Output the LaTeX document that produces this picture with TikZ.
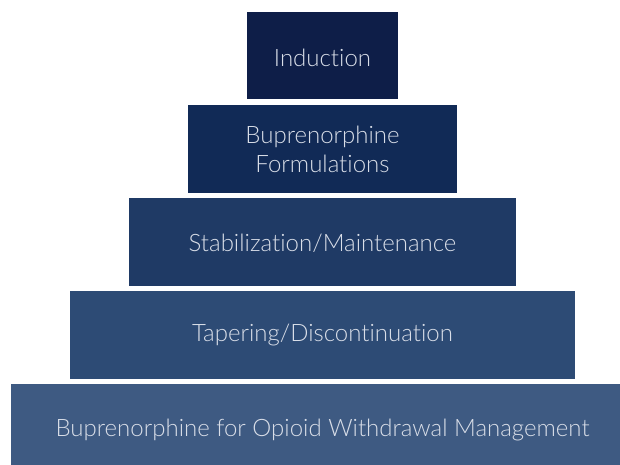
\documentclass[tikz,border=0pt]{standalone}
\usepackage{fontspec}
\setmainfont{Lato Light}[RawFeature={-liga}]
\definecolor{c1}{HTML}{0E1E48}
\definecolor{c2}{HTML}{112A56}
\definecolor{c3}{HTML}{1F3A65}
\definecolor{c4}{HTML}{2D4B75}
\definecolor{c5}{HTML}{3E5A82}
\definecolor{txt}{HTML}{D9DEE8}
\tikzset{
  tier/.style={draw=none, inner sep=0pt, text=txt, font=\fontsize{24}{29}\selectfont, align=center},
}
\begin{document}
\begin{tikzpicture}[x=1pt,y=-1pt]
\useasboundingbox (0,0) rectangle (620,465);
\clip (0,0) rectangle (620,465);
\fill[c1] (247,12) rectangle (398,99.5);
\fill[c2] (188,105) rectangle (457,192.5);
\fill[c3] (129,198) rectangle (516,285.5);
\fill[c4] (70,291) rectangle (575,378.5);
\fill[c5] (11,384) rectangle (634,470);
\node[tier] (t1) at (322.5,57.5) {Induction};
\node[tier] (t2) at (322.5,149) {Buprenorphine\\Formulations};
\node[tier] (t3) at (322.5,243.5) {Stabilization/Maintenance};
\node[tier] (t4) at (322.5,334.5) {Tapering/Discontinuation};
\node[tier] (t5) at (322.5,429.5) {Buprenorphine for Opioid Withdrawal Management};
\end{tikzpicture}
\end{document}
